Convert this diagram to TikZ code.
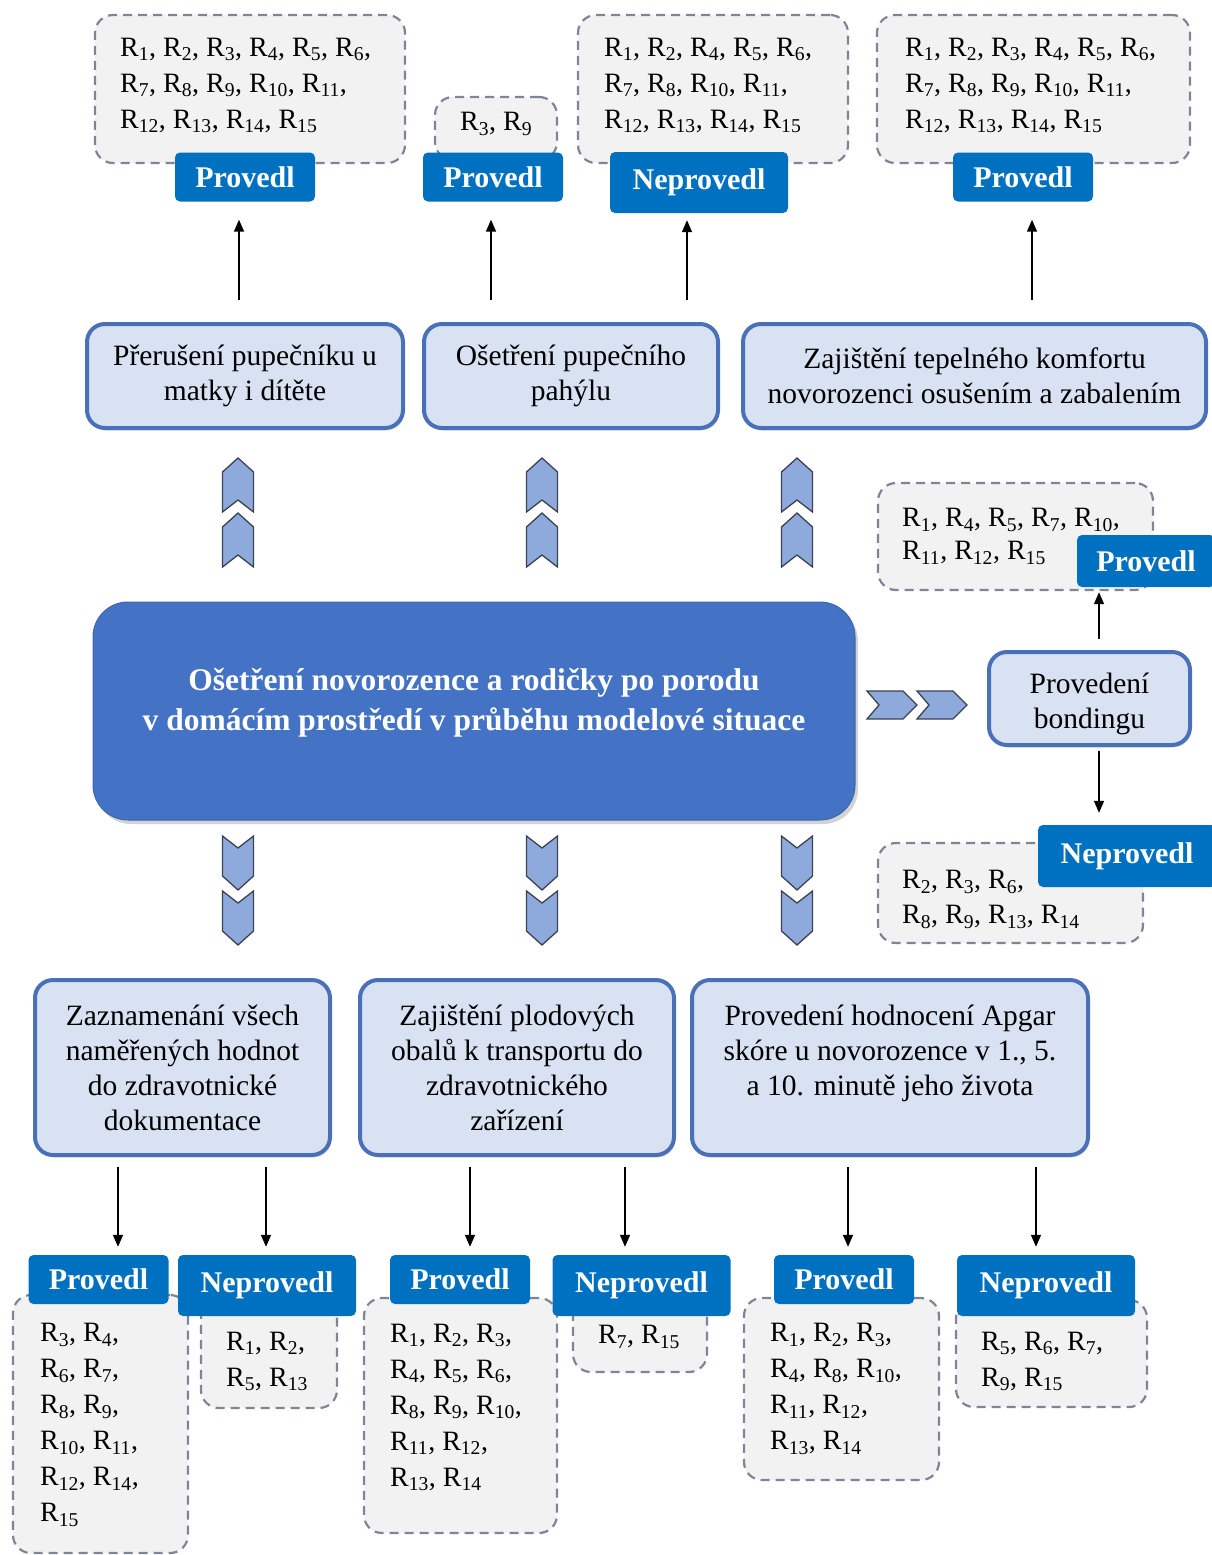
\documentclass[tikz,border=0pt]{standalone}
\usepackage{fontspec}
\setmainfont{Liberation Serif}
\usetikzlibrary{arrows.meta,shadows}
\definecolor{mainblue}{HTML}{4472C4}
\definecolor{labblue}{HTML}{0070C0}
\definecolor{midfill}{HTML}{D9E2F3}
\definecolor{midline}{HTML}{4A70B8}
\definecolor{dashfill}{HTML}{F2F2F2}
\definecolor{dashline}{HTML}{7D8597}
\definecolor{chevfill}{HTML}{8EA9DB}
\definecolor{chevline}{HTML}{3C4250}
\newcommand\Rr[1]{R\textsubscript{#1}}
\newcommand\ChevUp[2]{\draw[chev] ({#1-15.5},{#2+14}) -- (#1,#2) -- ({#1+15.5},{#2+14}) -- ({#1+15.5},{#2+54}) -- (#1,{#2+42}) -- ({#1-15.5},{#2+54}) -- cycle;}
\newcommand\ChevDown[2]{\draw[chev] ({#1-15.5},#2) -- (#1,{#2+12}) -- ({#1+15.5},#2) -- ({#1+15.5},{#2+40}) -- (#1,{#2+54}) -- ({#1-15.5},{#2+40}) -- cycle;}
\newcommand\ChevRight[2]{\draw[chev] (#1,{#2-14}) -- ({#1+36},{#2-14}) -- ({#1+50},#2) -- ({#1+36},{#2+14}) -- (#1,{#2+14}) -- ({#1+12},#2) -- cycle;}
\tikzset{
  dbox/.style={draw=dashline, fill=dashfill, line width=2.2pt, dash pattern=on 9pt off 6pt, rounded corners=18pt, inner sep=0pt},
  rtext/.style={anchor=west, align=left, inner sep=0pt, font=\fontsize{28}{36}\selectfont},
  lab/.style={fill=labblue, rounded corners=5pt, text=white, font=\fontsize{30}{36}\selectfont\bfseries, inner sep=0pt, minimum height=49pt},
  prov/.style={lab, minimum width=140pt},
  neprov/.style={lab, minimum width=178pt, minimum height=61pt},
  midbox/.style={draw=midline, fill=midfill, line width=4pt, rounded corners=18pt, align=center, inner sep=0pt, font=\fontsize{29.5}{35}\selectfont, drop shadow={shadow xshift=1.5pt, shadow yshift=-2.5pt, opacity=0.25}},
  mainbox/.style={fill=mainblue, draw=mainblue!90!black, line width=1pt, rounded corners=35pt, text=white, align=center, inner sep=0pt, font=\fontsize{31.5}{40}\selectfont\bfseries, drop shadow={shadow xshift=3pt, shadow yshift=-4pt, opacity=0.35}},
  chev/.style={fill=chevfill, draw=chevline, line width=1.3pt, line join=miter},
  arr/.style={-{Triangle[length=12pt,width=10pt]}, line width=1.5pt, draw=black}
}
\begin{document}
\begin{tikzpicture}[x=1pt,y=-1pt]
\useasboundingbox (0,0) rectangle (1211,1555);
% dashed result boxes
\node[dbox, minimum width=310pt, minimum height=148pt] (dA) at (250,89) {};
\node[dbox, minimum width=122pt, minimum height=63pt] (dB) at (496,128.5) {};
\node[dbox, minimum width=270pt, minimum height=148pt] (dC) at (713,89) {};
\node[dbox, minimum width=313pt, minimum height=148pt] (dD) at (1033.5,89) {};
\node[dbox, minimum width=275pt, minimum height=107pt] (dR1) at (1015.5,536.5) {};
\node[dbox, minimum width=265pt, minimum height=100pt] (dR2) at (1010.5,893) {};
\node[dbox, minimum width=175pt, minimum height=258pt] (d1) at (100.5,1424) {};
\node[dbox, minimum width=136pt, minimum height=108pt] (d2) at (269,1354) {};
\node[dbox, minimum width=193pt, minimum height=235pt] (d3) at (460.5,1415.5) {};
\node[dbox, minimum width=134pt, minimum height=72pt] (d4) at (640,1336) {};
\node[dbox, minimum width=195pt, minimum height=182pt] (d5) at (841.5,1389) {};
\node[dbox, minimum width=191pt, minimum height=107pt] (d6) at (1051.5,1353.5) {};
% texts in dashed boxes
\node[rtext] (tA) at (120,85.5) {\Rr{1}, \Rr{2}, \Rr{3}, \Rr{4}, \Rr{5}, \Rr{6},\\ \Rr{7}, \Rr{8}, \Rr{9}, \Rr{10}, \Rr{11},\\ \Rr{12}, \Rr{13}, \Rr{14}, \Rr{15}};
\node[rtext] (tB) at (460,124) {\Rr{3}, \Rr{9}};
\node[rtext] (tC) at (604,85.5) {\Rr{1}, \Rr{2}, \Rr{4}, \Rr{5}, \Rr{6},\\ \Rr{7}, \Rr{8}, \Rr{10}, \Rr{11},\\ \Rr{12}, \Rr{13}, \Rr{14}, \Rr{15}};
\node[rtext] (tD) at (905,85.5) {\Rr{1}, \Rr{2}, \Rr{3}, \Rr{4}, \Rr{5}, \Rr{6},\\ \Rr{7}, \Rr{8}, \Rr{9}, \Rr{10}, \Rr{11},\\ \Rr{12}, \Rr{13}, \Rr{14}, \Rr{15}};
\node[rtext, font=\fontsize{28}{33}\selectfont] (tR1) at (902,536.5) {\Rr{1}, \Rr{4}, \Rr{5}, \Rr{7}, \Rr{10},\\ \Rr{11}, \Rr{12}, \Rr{15}};
\node[rtext, font=\fontsize{28}{35}\selectfont] (tR2) at (902,899.5) {\Rr{2}, \Rr{3}, \Rr{6},\\ \Rr{8}, \Rr{9}, \Rr{13}, \Rr{14}};
\node[rtext] (t1) at (40,1425) {\Rr{3}, \Rr{4},\\ \Rr{6}, \Rr{7},\\ \Rr{8}, \Rr{9},\\ \Rr{10}, \Rr{11},\\ \Rr{12}, \Rr{14},\\ \Rr{15}};
\node[rtext] (t2) at (226,1361.5) {\Rr{1}, \Rr{2},\\ \Rr{5}, \Rr{13}};
\node[rtext] (t3) at (390,1407.5) {\Rr{1}, \Rr{2}, \Rr{3},\\ \Rr{4}, \Rr{5}, \Rr{6},\\ \Rr{8}, \Rr{9}, \Rr{10},\\ \Rr{11}, \Rr{12},\\ \Rr{13}, \Rr{14}};
\node[rtext] (t4) at (598,1337) {\Rr{7}, \Rr{15}};
\node[rtext] (t5) at (770,1389) {\Rr{1}, \Rr{2}, \Rr{3},\\ \Rr{4}, \Rr{8}, \Rr{10},\\ \Rr{11}, \Rr{12},\\ \Rr{13}, \Rr{14}};
\node[rtext] (t6) at (981,1361.5) {\Rr{5}, \Rr{6}, \Rr{7},\\ \Rr{9}, \Rr{15}};
% labels
\node[prov] (LA) at (245,177) {Provedl};
\node[prov] (LB) at (493,177) {Provedl};
\node[neprov] (LC) at (699,182.5) {Neprovedl};
\node[prov] (LD) at (1023,177) {Provedl};
\node[prov, minimum width=138pt, minimum height=52pt] (LR1) at (1146,561) {Provedl};
\node[neprov, minimum height=62pt] (LR2) at (1127,856) {Neprovedl};
\node[prov] (L1) at (98.5,1279.5) {Provedl};
\node[neprov] (L2) at (267,1285.5) {Neprovedl};
\node[prov] (L3) at (460,1279.5) {Provedl};
\node[neprov] (L4) at (641.5,1285.5) {Neprovedl};
\node[prov] (L5) at (844,1279.5) {Provedl};
\node[neprov] (L6) at (1046,1285.5) {Neprovedl};
% step boxes
\node[midbox, minimum width=316pt, minimum height=104pt] (M1) at (245,376) {Přerušení pupečníku u\\ matky i dítěte};
\node[midbox, minimum width=294pt, minimum height=104pt] (M2) at (571,376) {Ošetření pupečního\\ pahýlu};
\node[midbox, minimum width=463pt, minimum height=104pt] (M3) at (974.5,376) {Zajištění tepelného komfortu\\ novorozenci osušením a zabalením};
\node[midbox, minimum width=201pt, minimum height=93pt] (BD) at (1089.5,698.5) {\mbox{}\\[-4pt]Provedení\\ bondingu};
\node[midbox, minimum width=295pt, minimum height=175pt] (B1) at (182.5,1067.5) {Zaznamenání všech\\ naměřených hodnot\\ do zdravotnické\\ dokumentace};
\node[midbox, minimum width=314pt, minimum height=175pt] (B2) at (517,1067.5) {Zajištění plodových\\ obalů k transportu do\\ zdravotnického\\ zařízení};
\node[midbox, minimum width=396pt, minimum height=175pt] (B3) at (890,1067.5) {Provedení hodnocení Apgar\\ skóre u novorozence v 1., 5.\\ a 10. minutě jeho života\\ \mbox{}};
% main box
\node[mainbox, minimum width=762pt, minimum height=218pt] (MN) at (474,711) {Ošetření novorozence a rodičky po porodu\\ v domácím prostředí v průběhu modelové situace\\[-16pt]\mbox{}};
% chevrons
\ChevUp{238}{458} \ChevUp{238}{513}
\ChevUp{542}{458} \ChevUp{542}{513}
\ChevUp{797}{458} \ChevUp{797}{513}
\ChevDown{238}{836} \ChevDown{238}{891}
\ChevDown{542}{836} \ChevDown{542}{891}
\ChevDown{797}{836} \ChevDown{797}{891}
\ChevRight{867}{705} \ChevRight{917}{705}
% arrows
\draw[arr, shorten <=22pt, shorten >=18pt] (M1.north -| 239,0) -- (LA.south -| 239,0);
\draw[arr, shorten <=22pt, shorten >=18pt] (M2.north -| 491,0) -- (LB.south -| 491,0);
\draw[arr, shorten <=22pt, shorten >=7pt] (M2.north -| 687,0) -- (LC.south -| 687,0);
\draw[arr, shorten <=22pt, shorten >=18pt] (M3.north -| 1032,0) -- (LD.south -| 1032,0);
\draw[arr, shorten <=11pt, shorten >=5pt] (BD.north -| 1099,0) -- (LR1.south -| 1099,0);
\draw[arr, shorten <=4pt, shorten >=12pt] (BD.south -| 1099,0) -- (LR2.north -| 1099,0);
\draw[arr, shorten <=10pt, shorten >=8pt] (B1.south -| 118,0) -- (L1.north -| 118,0);
\draw[arr, shorten <=10pt, shorten >=8pt] (B1.south -| 266,0) -- (L2.north -| 266,0);
\draw[arr, shorten <=10pt, shorten >=8pt] (B2.south -| 470,0) -- (L3.north -| 470,0);
\draw[arr, shorten <=10pt, shorten >=8pt] (B2.south -| 625,0) -- (L4.north -| 625,0);
\draw[arr, shorten <=10pt, shorten >=8pt] (B3.south -| 848,0) -- (L5.north -| 848,0);
\draw[arr, shorten <=10pt, shorten >=8pt] (B3.south -| 1036,0) -- (L6.north -| 1036,0);
\end{tikzpicture}
\end{document}
